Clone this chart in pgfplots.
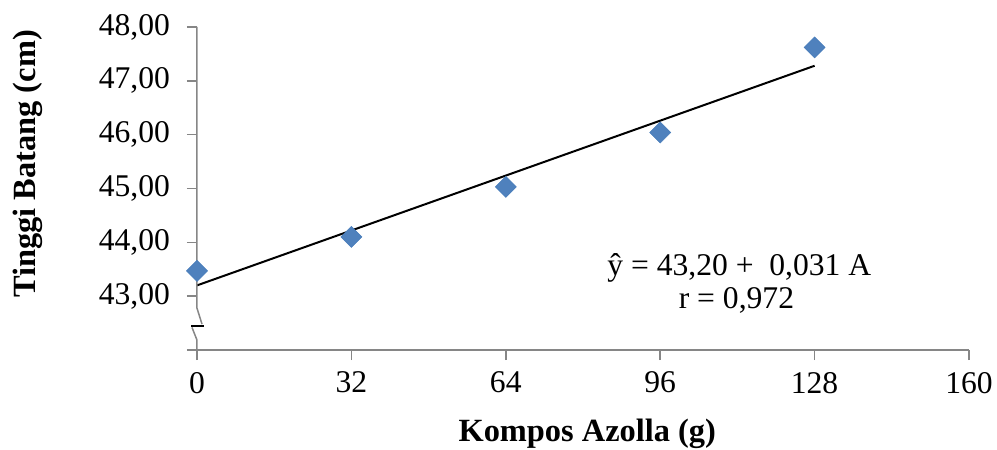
\documentclass[border=0pt]{standalone}
\usepackage{fontspec}
\setmainfont{Liberation Serif}
\usepackage{pgfplots}
\pgfplotsset{compat=1.18}
\definecolor{pt}{HTML}{4F81BD}
\definecolor{ptd}{HTML}{4A7EBB}
\definecolor{ax}{HTML}{868686}
\begin{document}
\begin{tikzpicture}
\useasboundingbox (-98.5pt,-50pt) rectangle (400pt,175pt);
\begin{axis}[
 at={(0,0)}, anchor=south west,
 scale only axis, width=386pt, height=161.5pt,
 xmin=0, xmax=160, ymin=42, ymax=48,
 clip=false,
 axis lines*=left,
 x axis line style={draw=ax, line width=0.75pt, -},
 y axis line style={draw=none, -},
 xtick={0,32,64,96,128,160},
 xticklabels={0,32,64,96,128,160},
 ytick={42,43,44,45,46,47,48},
 yticklabels={{},{43,00},{44,00},{45,00},{46,00},{47,00},{48,00}},
 tick align=outside,
 major tick length=5pt,
 tick style={draw=ax, line width=0.75pt},
 ticklabel style={font=\fontsize{15.8}{18}\selectfont},
 yticklabel style={xshift=-5pt},
 xticklabel style={yshift=-2.5pt},
 xlabel={Kompos Azolla (g)},
 ylabel={Tinggi Batang (cm)},
 label style={font=\fontsize{16.2}{19}\selectfont\bfseries},
 xlabel style={at={(axis description cs:0.5055,-0.282)}, anchor=base},
 ylabel style={at={(axis description cs:-0.2098,0.576)}, anchor=base},
]
\addplot[black, line width=1pt, no marks] coordinates {(0,43.20) (128,47.28)};
\addplot[only marks, mark=square*, mark size=3.7pt,
  mark options={rotate=45, fill=pt, draw=ptd, line width=0.3pt}]
  coordinates {(0,43.47) (32,44.10) (64,45.03) (96,46.04) (128,47.62)};
\draw[ax, line width=0.75pt] (axis cs:0,48) -- (axis cs:0,42.777) -- (axis cs:1.04,42.48);
\draw[ax, line width=0.75pt] (axis cs:-1.04,42.42) -- (axis cs:0,42.183) -- (axis cs:0,42);
\draw[black, line width=1pt] (axis cs:-1.24,42.455) -- (axis cs:1.45,42.455);
\node[anchor=base, font=\fontsize{15.8}{18}\selectfont] at (axis cs:112.4,43.39) {ŷ = 43,20 +\ \ 0,031 A};
\node[anchor=base, font=\fontsize{15.8}{18}\selectfont] at (axis cs:111.8,42.777) {r = 0,972};
\end{axis}
\end{tikzpicture}
\end{document}
